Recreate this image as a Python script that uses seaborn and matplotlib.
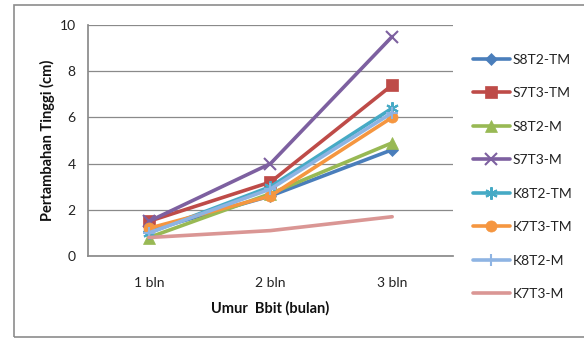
import matplotlib
matplotlib.use("Agg")
import matplotlib.pyplot as plt
import seaborn as sns
import pandas as pd
from matplotlib.patches import Rectangle

categories = ["1 bln", "2 bln", "3 bln"]
series_names = ["S8T2-TM", "S7T3-TM", "S8T2-M", "S7T3-M",
                "K8T2-TM", "K7T3-TM", "K8T2-M", "K7T3-M"]
s8t2_tm = [1.1, 2.6, 4.6]
s7t3_tm = [1.5, 3.2, 7.4]
s8t2_m = [0.8, 2.7, 4.9]
s7t3_m = [1.5, 4.0, 9.5]
k8t2_tm = [1.0, 3.0, 6.4]
k7t3_tm = [1.2, 2.6, 6.0]
k8t2_m = [1.0, 2.9, 6.2]
k7t3_m = [0.8, 1.1, 1.7]
values = [s8t2_tm, s7t3_tm, s8t2_m, s7t3_m, k8t2_tm, k7t3_tm, k8t2_m, k7t3_m]
yticks = [0, 2, 4, 6, 8, 10]

colors = ["#4A7EBB", "#BE4B48", "#98B954", "#7D60A0", "#46AAC5", "#F59640", "#8EB4E3", "#DA9694"]
markers = ["D", "s", "^", "x", (6, 2, 0), "o", "+", None]
msizes = [6, 8, 8, 9, 9, 8, 9, 0]

rows = []
for name, vals in zip(series_names, values):
    for c, v in zip(categories, vals):
        rows.append({"bulan": c, "tinggi": v, "seri": name})
df = pd.DataFrame(rows)

sns.set_theme(style="white")
plt.rcParams["font.family"] = ["Lato", "DejaVu Sans"]

fig = plt.figure(figsize=(5.84, 3.40), dpi=100)
fig.patches.append(Rectangle((14 / 584, 3 / 340), 600 / 584, 332 / 340, transform=fig.transFigure,
                             fill=False, edgecolor="#8c8c8c", linewidth=1.2))
ax = fig.add_axes([88 / 584, 1 - 256 / 340, (453 - 88) / 584, (256 - 25) / 340])

for i, name in enumerate(series_names):
    sub = df[df["seri"] == name]
    sns.lineplot(data=sub, x="bulan", y="tinggi", ax=ax, color=colors[i], linewidth=2.6,
                 marker=markers[i], markersize=msizes[i],
                 markeredgewidth=1.5 if markers[i] in ("x", "+", (6, 2, 0)) else 0.5,
                 markeredgecolor=colors[i], label=name, sort=False)

ax.set_xlim(-0.5, 2.5)
ax.set_ylim(0, 10)
ax.set_yticks(yticks)
ax.yaxis.grid(True, color="#8a8a8a", linewidth=0.9)
ax.xaxis.grid(False)
for s in ["top", "right"]:
    ax.spines[s].set_visible(False)
ax.spines["left"].set_color("#8a8a8a")
ax.spines["bottom"].set_color("#8a8a8a")
ax.tick_params(axis="both", labelsize=10, colors="#222222", length=0)
ax.tick_params(axis="y", pad=9)
ax.tick_params(axis="x", pad=15)
ax.set_xlabel("Umur  Bbit (bulan)", fontsize=10.5, fontweight="bold", labelpad=9, color="#111111")
ax.set_ylabel("Pertambahan Tinggi (cm)", fontsize=10.5, fontweight="bold", labelpad=3, color="#111111")

leg = ax.legend(loc="upper left", bbox_to_anchor=(467 / 584, 1 - 48 / 340),
                bbox_transform=fig.transFigure, frameon=False, fontsize=10,
                handlelength=2.7, handletextpad=0.2, labelspacing=1.55, borderaxespad=0)
for t in leg.get_texts():
    t.set_color("#222222")

fig.savefig("out.png", dpi=100)
